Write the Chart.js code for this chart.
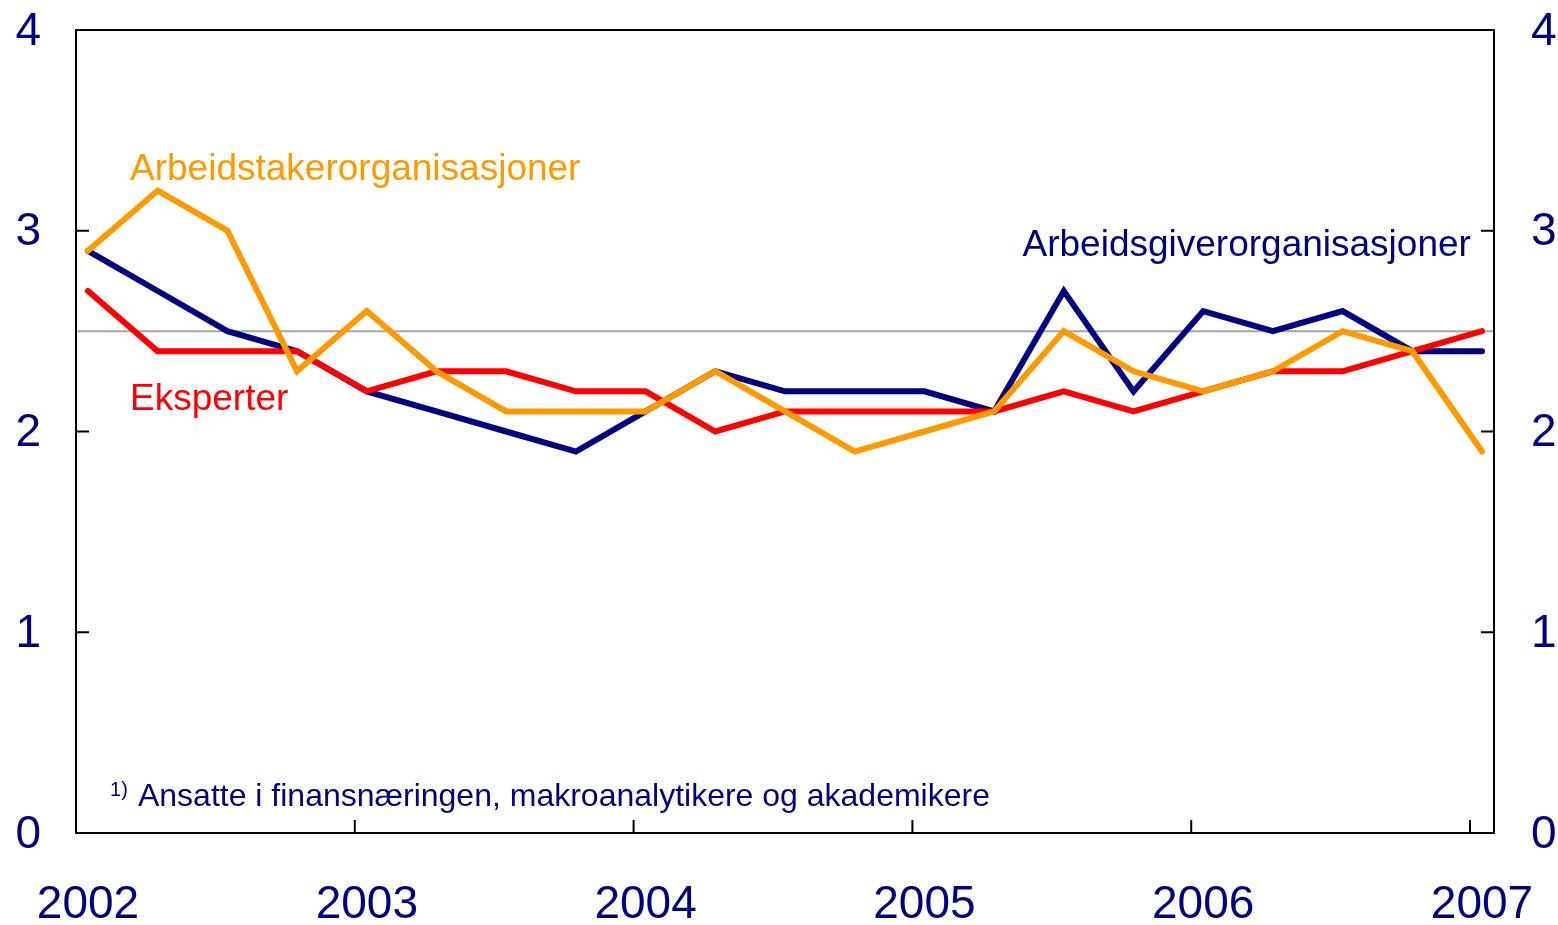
<!DOCTYPE html>
<html>
<head>
<meta charset="utf-8">
<script src="https://cdn.jsdelivr.net/npm/chart.js@4"></script>
<style>
  html, body { margin: 0; padding: 0; background: #fff; overflow: hidden; }
  #wrap { width: 1558px; height: 925px; }
</style>
</head>
<body>
<div id="wrap"><canvas id="chart"></canvas></div>
<script>
// quarterly points, 2002 Q1 .. 2007 Q1
const years = ["2002", "2003", "2004", "2005", "2006", "2007"];
const arbeidsgiver = [2.9, 2.7, 2.5, 2.4, 2.2, 2.1, 2.0, 1.9, 2.1, 2.3, 2.2, 2.2, 2.2, 2.1, 2.7, 2.2, 2.6, 2.5, 2.6, 2.4, 2.4];
const eksperter = [2.7, 2.4, 2.4, 2.4, 2.2, 2.3, 2.3, 2.2, 2.2, 2.0, 2.1, 2.1, 2.1, 2.1, 2.2, 2.1, 2.2, 2.3, 2.3, 2.4, 2.5];
const arbeidstaker = [2.9, 3.2, 3.0, 2.3, 2.6, 2.3, 2.1, 2.1, 2.1, 2.3, 2.1, 1.9, 2.0, 2.1, 2.5, 2.3, 2.2, 2.3, 2.5, 2.4, 1.9];
const yTicks = [0, 1, 2, 3, 4];
const refLevel = 2.5;

const NAVY = "#000080";
const RED = "#ff0000";
const ORANGE = "#ff9900";
const FONT = "'Liberation Sans', Arial, sans-serif";
const OFF = 0.172; // year boundary sits a bit before the Q1 point

function pts(arr) {
  return arr.map((v, i) => ({ x: i, y: v }));
}

const framePlugin = {
  id: "frame",
  beforeDatasetsDraw(chart) {
    const { ctx, chartArea: a, scales } = chart;
    const y = scales.y.getPixelForValue(refLevel);
    ctx.save();
    ctx.strokeStyle = "#a6a6a6";
    ctx.lineWidth = 2;
    ctx.beginPath();
    ctx.moveTo(a.left, y);
    ctx.lineTo(a.right, y);
    ctx.stroke();
    ctx.restore();
  },
  afterDatasetsDraw(chart) {
    const { ctx, chartArea: a, scales } = chart;
    const tx = v => scales.x.getPixelForValue(v);
    const ty = v => scales.y.getPixelForValue(v);
    ctx.save();
    // frame and inward ticks
    ctx.strokeStyle = "#000";
    ctx.lineWidth = 2;
    ctx.strokeRect(a.left, a.top, a.right - a.left, a.bottom - a.top);
    ctx.beginPath();
    yTicks.forEach(v => {
      ctx.moveTo(a.left, ty(v)); ctx.lineTo(a.left + 13, ty(v));
      ctx.moveTo(a.right, ty(v)); ctx.lineTo(a.right - 13, ty(v));
    });
    years.forEach((yr, k) => {
      const px = tx(k * 4 - OFF);
      ctx.moveTo(px, a.bottom); ctx.lineTo(px, a.bottom - 13);
    });
    ctx.stroke();

    // axis labels
    ctx.fillStyle = NAVY;
    ctx.font = "46px " + FONT;
    ctx.textBaseline = "middle";
    yTicks.forEach(v => {
      ctx.textAlign = "right";
      ctx.fillText(String(v), 41, ty(v) + 2);
      ctx.textAlign = "left";
      ctx.fillText(String(v), a.right + 37, ty(v) + 2);
    });
    ctx.textAlign = "center";
    years.forEach((yr, k) => {
      ctx.fillText(yr, tx(k * 4), a.bottom + 72);
    });

    // series labels and footnote
    ctx.textBaseline = "alphabetic";
    ctx.font = "37px " + FONT;
    ctx.fillStyle = ORANGE;
    ctx.textAlign = "left";
    ctx.fillText("Arbeidstakerorganisasjoner", tx(0.603), ty(3.253));
    ctx.fillStyle = NAVY;
    ctx.textAlign = "right";
    ctx.fillText("Arbeidsgiverorganisasjoner", tx(19.84), ty(2.874));
    ctx.fillStyle = RED;
    ctx.textAlign = "left";
    ctx.fillText("Eksperter", tx(0.603), ty(2.107));
    ctx.fillStyle = NAVY;
    ctx.font = "20px " + FONT;
    ctx.fillText("1)", tx(0.316), ty(0.184));
    ctx.font = "32px " + FONT;
    ctx.fillText("Ansatte i finansnæringen, makroanalytikere og akademikere", tx(0.717), ty(0.134));
    ctx.restore();
  }
};

const lineStyle = { borderWidth: 6, pointRadius: 0, tension: 0, fill: false, borderCapStyle: "round", borderJoinStyle: "miter" };

// chart.js paints dataset 0 last, so orange ends up on top and navy underneath
new Chart(document.getElementById("chart"), {
  type: "line",
  data: {
    datasets: [
      Object.assign({ label: "Arbeidstakerorganisasjoner", data: pts(arbeidstaker), borderColor: ORANGE }, lineStyle),
      Object.assign({ label: "Eksperter", data: pts(eksperter), borderColor: RED }, lineStyle),
      Object.assign({ label: "Arbeidsgiverorganisasjoner", data: pts(arbeidsgiver), borderColor: NAVY }, lineStyle)
    ]
  },
  options: {
    responsive: true,
    maintainAspectRatio: false,
    animation: false,
    layout: { padding: { top: 30, left: 76, right: 64, bottom: 92 } },
    plugins: { legend: { display: false }, tooltip: { enabled: false } },
    scales: {
      x: { type: "linear", display: false, min: -OFF, max: 20 + OFF },
      y: { display: false, min: 0, max: 4 }
    }
  },
  plugins: [framePlugin]
});
</script>
</body>
</html>
